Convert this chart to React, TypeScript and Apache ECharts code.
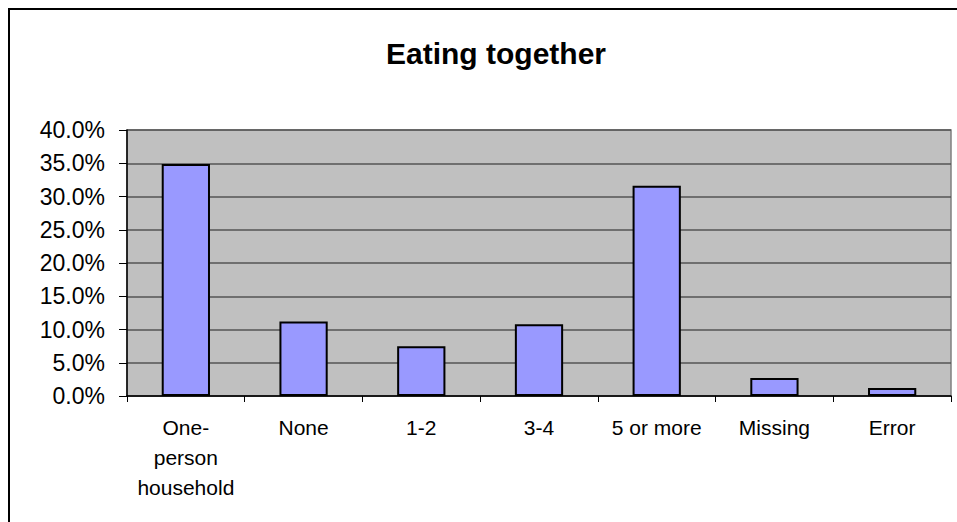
import React, { useEffect, useRef } from "react";
import * as echarts from "echarts";

const categories = ["One-person household", "None", "1-2", "3-4", "5 or more", "Missing", "Error"];
const percentValues = [34.9, 11.2, 7.5, 10.8, 31.6, 2.7, 1.2];
const titleText = "Eating together";
const yMax = 40;
const yInterval = 5;

const FONT = 'Arial, "Liberation Sans", sans-serif';

export default function App() {
  const ref = useRef<HTMLDivElement>(null);
  useEffect(() => {
    document.body.style.margin = "0";
    document.body.style.overflow = "hidden";
    const chart = echarts.init(ref.current!, null, { renderer: "svg" });
    chart.setOption({
      animation: false,
      backgroundColor: "#ffffff",
      title: {
        text: titleText,
        left: 491,
        textAlign: "center",
        top: 33,
        textStyle: { fontFamily: FONT, fontSize: 30, fontWeight: "bold", color: "#000" },
      },
      graphic: [
        {
          type: "rect",
          shape: { x: 9, y: 9, width: 1000, height: 600 },
          style: { fill: "none", stroke: "#000", lineWidth: 2 },
          silent: true,
        },
      ],
      grid: {
        left: 127,
        top: 130,
        right: 6,
        bottom: 126,
        show: true,
        backgroundColor: "#C0C0C0",
        borderColor: "#808080",
        borderWidth: 1.5,
      },
      xAxis: {
        type: "category",
        data: categories,
        axisLine: { show: true, lineStyle: { color: "#000", width: 1.5 } },
        axisTick: { show: true, alignWithLabel: false, length: 6, lineStyle: { color: "#000", width: 1 } },
        axisLabel: {
          interval: 0,
          margin: 16,
          fontFamily: FONT,
          fontSize: 21,
          lineHeight: 30,
          color: "#000",
          formatter: (v: string) => (v === "One-person household" ? "One-\nperson\nhousehold" : v),
        },
      },
      yAxis: {
        type: "value",
        min: 0,
        max: yMax,
        interval: yInterval,
        axisLine: { show: true, lineStyle: { color: "#000", width: 1.5 } },
        axisTick: { show: true, inside: false, length: 8, lineStyle: { color: "#000", width: 1 } },
        axisLabel: {
          margin: 22,
          fontFamily: FONT,
          fontSize: 23,
          color: "#000",
          formatter: (v: number) => v.toFixed(1) + "%",
        },
        splitLine: { show: true, lineStyle: { color: "#555555", width: 1.5 } },
      },
      series: [
        {
          type: "bar",
          data: percentValues,
          barWidth: "41%",
          itemStyle: { color: "#9999FF", borderColor: "#000", borderWidth: 2 },
        },
      ],
    });
    return () => chart.dispose();
  }, []);
  return <div ref={ref} style={{ width: 957, height: 522 }} />;
}
